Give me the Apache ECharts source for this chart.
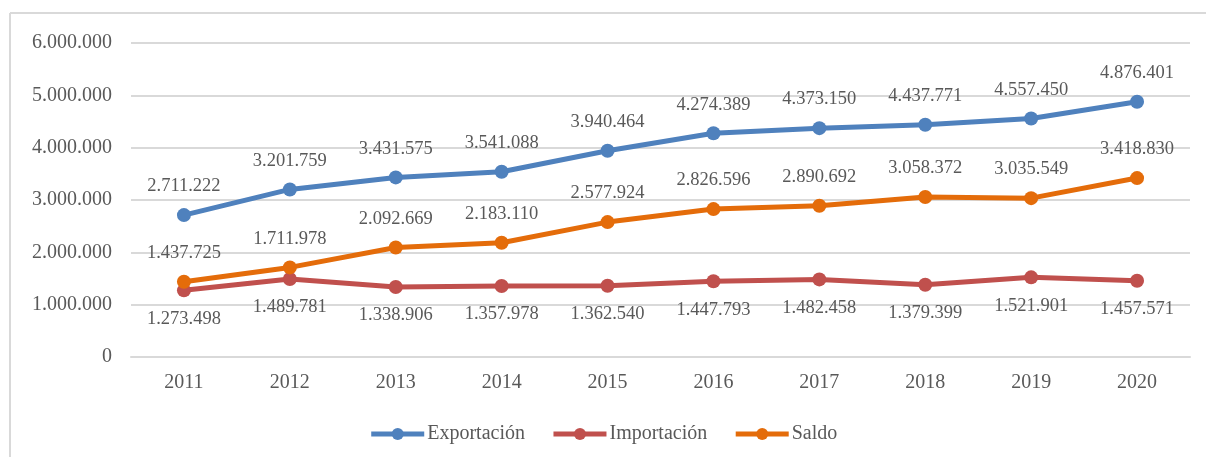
<!DOCTYPE html>
<html>
<head>
<meta charset="utf-8">
<script src="https://cdn.jsdelivr.net/npm/echarts@6/dist/echarts.min.js"></script>
<style>
  html, body { margin: 0; padding: 0; background: #fff; }
  #chart { width: 1206px; height: 457px; }
</style>
</head>
<body>
<div id="chart"></div>
<script>
// años y valores
const years = ['2011', '2012', '2013', '2014', '2015', '2016', '2017', '2018', '2019', '2020']
const exportacion = [2711222, 3201759, 3431575, 3541088, 3940464, 4274389, 4373150, 4437771, 4557450, 4876401]
const importacion = [1273498, 1489781, 1338906, 1357978, 1362540, 1447793, 1482458, 1379399, 1521901, 1457571]
const saldo = [1437725, 1711978, 2092669, 2183110, 2577924, 2826596, 2890692, 3058372, 3035549, 3418830]

const font = '"Liberation Serif", "Times New Roman", serif'
const textColor = '#595959'

// 1.234.567
const fmt = (v) => String(Math.round(v)).replace(/\B(?=(\d{3})+(?!\d))/g, '.')

const mkSeries = (name, data, color, pos) => ({
  name,
  type: 'line',
  data,
  symbol: 'circle',
  symbolSize: 14,
  lineStyle: { width: 5, color },
  itemStyle: { color },
  label: {
    show: true,
    position: pos,
    distance: 12,
    color: textColor,
    fontFamily: font,
    fontSize: 18.5,
    formatter: (p) => fmt(p.value)
  },
  emphasis: { disabled: true },
  animation: false
})

const chart = echarts.init(document.getElementById('chart'))
chart.setOption({
  backgroundColor: '#fff',
  grid: { left: 131, right: 16, top: 43, bottom: 100, containLabel: false },
  legend: {
    bottom: 8,
    left: 'center',
    itemWidth: 53,
    itemHeight: 15,
    itemGap: 26,
    lineStyle: { width: 5 },
    textStyle: { color: textColor, fontFamily: font, fontSize: 20, padding: [0, 0, 0, -2] },
    data: ['Exportación', 'Importación', 'Saldo']
  },
  xAxis: {
    type: 'category',
    data: years,
    boundaryGap: true,
    axisLine: { show: true, lineStyle: { color: '#d9d9d9', width: 2 } },
    axisTick: { show: false },
    axisLabel: { color: textColor, fontFamily: font, fontSize: 20, margin: 16 }
  },
  yAxis: {
    type: 'value',
    min: 0,
    max: 6000000,
    interval: 1000000,
    axisLine: { show: false },
    axisTick: { show: false },
    splitLine: { lineStyle: { color: '#d9d9d9', width: 2 } },
    axisLabel: { color: textColor, fontFamily: font, fontSize: 20, margin: 19, formatter: fmt }
  },
  graphic: [
    { type: 'line', shape: { x1: 10, y1: 13, x2: 1206, y2: 13 }, style: { stroke: '#d9d9d9', lineWidth: 2 } },
    { type: 'line', shape: { x1: 10, y1: 13, x2: 10, y2: 457 }, style: { stroke: '#d9d9d9', lineWidth: 2 } }
  ],
  series: [
    mkSeries('Exportación', exportacion, '#4f81bd', 'top'),
    mkSeries('Importación', importacion, '#c0504d', 'bottom'),
    mkSeries('Saldo', saldo, '#e46c0a', 'top')
  ]
})
</script>
</body>
</html>
